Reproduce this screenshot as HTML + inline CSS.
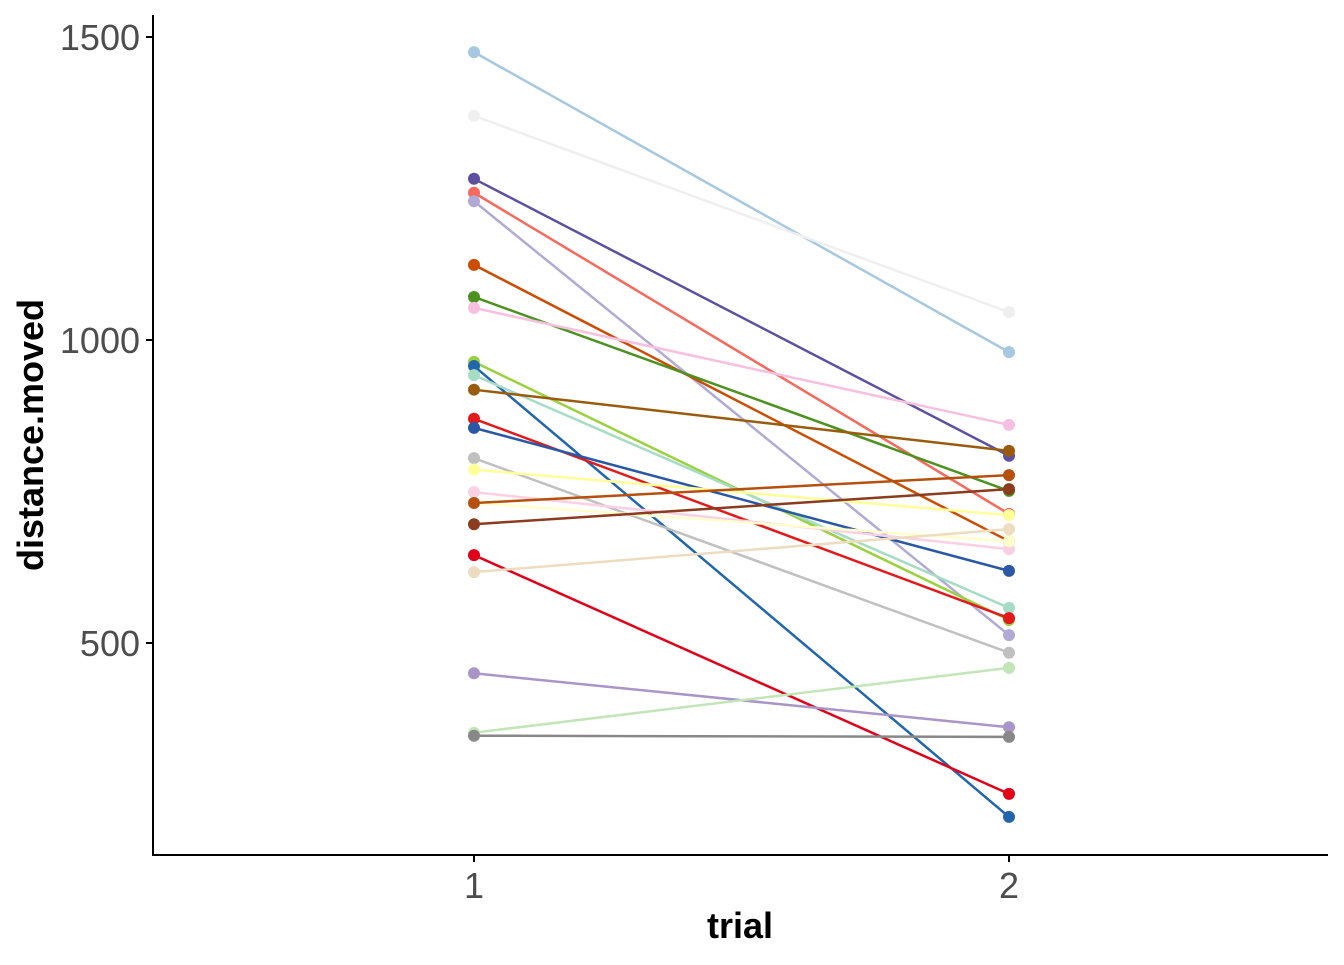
<!DOCTYPE html>
<html><head><meta charset="utf-8"><style>
body{margin:0;background:#fff}
svg text{font-family:"Liberation Sans",Arial,sans-serif}
</style></head><body>
<svg id="chart" width="1344" height="960" xmlns="http://www.w3.org/2000/svg">
<g id="marks"></g>
<line x1="153" y1="15" x2="153" y2="856" stroke="#000" stroke-width="2"/>
<line x1="152" y1="855" x2="1328" y2="855" stroke="#000" stroke-width="2"/>
<g id="axes"></g>
<text x="740" y="938" text-anchor="middle" font-size="36" font-weight="bold">trial</text>
<text transform="translate(43,435) rotate(-90)" text-anchor="middle" font-size="36" font-weight="bold">distance.moved</text>
</svg>
<script>
const trials = [1, 2];
const yTicks = [500, 1000, 1500];
const trial1 = [1475,1370,1266,1243,1229,1124,1071,1053,964,957,942,918,870,855,805,786,749,731,731,696,645,617,450,352,347];
const trial2 = [980,1046,809,713,513,668,751,860,538,213,558,817,541,619,484,711,655,668,777,754,251,688,361,459,345];
const colors = ["#a6c8e0","#efefef","#5e50a1","#f66a5e","#b0aad4","#cc4c02","#4d9221","#f7c0e0","#9ad13e","#2166ac","#a6dcc3","#995c0e","#e31a1c","#2b58a5","#c0c0c0","#ffff99","#fbcfe4","#ffffcc","#b5500f","#8c3c1e","#e0001a","#eedcc0","#a995c8","#c2e6b8","#888888"];
const NS="http://www.w3.org/2000/svg";
const xS = t => 474 + (t-1)*535;
const yS = v => 340 - (v-1000)*0.606;
const marks=document.getElementById('marks');
for(let i=0;i<trial1.length;i++){
  const g=document.createElementNS(NS,'g');
  
  
  const l=document.createElementNS(NS,'line');
  
  
  l.setAttribute('x1',xS(trials[0]));l.setAttribute('y1',yS(trial1[i]));
  l.setAttribute('x2',xS(trials[1]));l.setAttribute('y2',yS(trial2[i]));
  l.setAttribute('stroke',colors[i]);l.setAttribute('stroke-width','2.5');
  g.appendChild(l);
  [trial1[i],trial2[i]].forEach((v,k)=>{
    const c=document.createElementNS(NS,'circle');
    
    
    c.setAttribute('cx',xS(trials[k]));c.setAttribute('cy',yS(v));c.setAttribute('r','6');
    c.setAttribute('fill',colors[i]);
    g.appendChild(c);
  });
  marks.appendChild(g);
}
const axes=document.getElementById('axes');
yTicks.forEach(v=>{
  const t=document.createElementNS(NS,'line');
  
  
  t.setAttribute('x1',146);t.setAttribute('x2',153);t.setAttribute('y1',yS(v));t.setAttribute('y2',yS(v));
  t.setAttribute('stroke','#000');t.setAttribute('stroke-width','2');
  axes.appendChild(t);
  const tx=document.createElementNS(NS,'text');
  
  
  tx.setAttribute('x',140);tx.setAttribute('y',yS(v)+13);tx.setAttribute('text-anchor','end');
  tx.setAttribute('font-size','36');tx.setAttribute('fill','#4d4d4d');
  tx.textContent=v;axes.appendChild(tx);
});
trials.forEach(v=>{
  const t=document.createElementNS(NS,'line');
  
  
  t.setAttribute('x1',xS(v));t.setAttribute('x2',xS(v));t.setAttribute('y1',855);t.setAttribute('y2',862);
  t.setAttribute('stroke','#000');t.setAttribute('stroke-width','2');
  axes.appendChild(t);
  const tx=document.createElementNS(NS,'text');
  
  
  tx.setAttribute('x',xS(v));tx.setAttribute('y',898);tx.setAttribute('text-anchor','middle');
  tx.setAttribute('font-size','36');tx.setAttribute('fill','#4d4d4d');
  tx.textContent=v;axes.appendChild(tx);
});
</script>
</body></html>
